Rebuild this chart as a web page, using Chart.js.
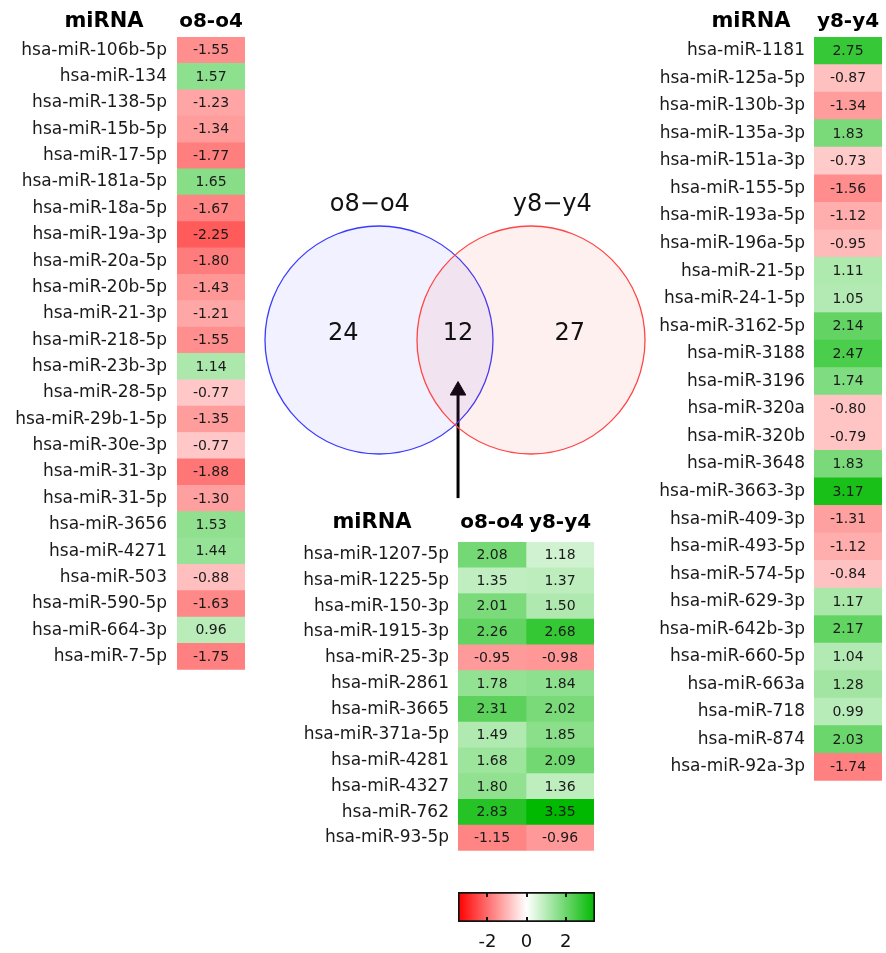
<!DOCTYPE html>
<html><head><meta charset="utf-8">
<script src="https://cdn.jsdelivr.net/npm/chart.js@4.4.1/dist/chart.umd.min.js"></script>
<style>
html,body{margin:0;padding:0;background:#fff;}
#wrap{position:relative;width:886px;height:953px;overflow:hidden;background:#fff;}
canvas{position:absolute;}
</style></head><body><div id="wrap">
<canvas id="cLeft"></canvas>
<canvas id="cRight"></canvas>
<canvas id="cMid"></canvas>
<canvas id="cVenn"></canvas>
<canvas id="cBar"></canvas>
</div>
<script>
// ---------------- DATA ----------------
const leftMirnas = ['hsa-miR-106b-5p','hsa-miR-134','hsa-miR-138-5p','hsa-miR-15b-5p','hsa-miR-17-5p','hsa-miR-181a-5p','hsa-miR-18a-5p','hsa-miR-19a-3p','hsa-miR-20a-5p','hsa-miR-20b-5p','hsa-miR-21-3p','hsa-miR-218-5p','hsa-miR-23b-3p','hsa-miR-28-5p','hsa-miR-29b-1-5p','hsa-miR-30e-3p','hsa-miR-31-3p','hsa-miR-31-5p','hsa-miR-3656','hsa-miR-4271','hsa-miR-503','hsa-miR-590-5p','hsa-miR-664-3p','hsa-miR-7-5p'];
const leftO8O4 = [-1.55,1.57,-1.23,-1.34,-1.77,1.65,-1.67,-2.25,-1.80,-1.43,-1.21,-1.55,1.14,-0.77,-1.35,-0.77,-1.88,-1.30,1.53,1.44,-0.88,-1.63,0.96,-1.75];

const rightMirnas = ['hsa-miR-1181','hsa-miR-125a-5p','hsa-miR-130b-3p','hsa-miR-135a-3p','hsa-miR-151a-3p','hsa-miR-155-5p','hsa-miR-193a-5p','hsa-miR-196a-5p','hsa-miR-21-5p','hsa-miR-24-1-5p','hsa-miR-3162-5p','hsa-miR-3188','hsa-miR-3196','hsa-miR-320a','hsa-miR-320b','hsa-miR-3648','hsa-miR-3663-3p','hsa-miR-409-3p','hsa-miR-493-5p','hsa-miR-574-5p','hsa-miR-629-3p','hsa-miR-642b-3p','hsa-miR-660-5p','hsa-miR-663a','hsa-miR-718','hsa-miR-874','hsa-miR-92a-3p'];
const rightY8Y4 = [2.75,-0.87,-1.34,1.83,-0.73,-1.56,-1.12,-0.95,1.11,1.05,2.14,2.47,1.74,-0.80,-0.79,1.83,3.17,-1.31,-1.12,-0.84,1.17,2.17,1.04,1.28,0.99,2.03,-1.74];

const sharedMirnas = ['hsa-miR-1207-5p','hsa-miR-1225-5p','hsa-miR-150-3p','hsa-miR-1915-3p','hsa-miR-25-3p','hsa-miR-2861','hsa-miR-3665','hsa-miR-371a-5p','hsa-miR-4281','hsa-miR-4327','hsa-miR-762','hsa-miR-93-5p'];
const sharedO8O4 = [2.08,1.35,2.01,2.26,-0.95,1.78,2.31,1.49,1.68,1.80,2.83,-1.15];
const sharedY8Y4 = [1.18,1.37,1.50,2.68,-0.98,1.84,2.02,1.85,2.09,1.36,3.35,-0.96];

const colO8O4 = 'o8-o4';
const colY8Y4 = 'y8-y4';
const rowHeader = 'miRNA';
const vennSetLabels = ['o8\u2212o4','y8\u2212y4'];
const vennCounts = [24, 12, 27];        // only o8-o4, shared, only y8-y4
const colorbarTicks = [-2, 0, 2];
const colorbarRange = [-3.5, 3.5];

// ---------------- STYLE / LAYOUT ----------------
const FONT = 'DejaVu Sans';
Chart.defaults.font.family = FONT;
Chart.defaults.animation = false;

function makeColor(negDiv, posOff, posDiv) {
  return v => {
    let t;
    if (v < 0) {
      t = Math.min(1, -v / negDiv);
      const c = Math.round(255 * (1 - t));
      return `rgb(255,${c},${c})`;
    }
    t = Math.max(0, Math.min(1, (v - posOff) / posDiv));
    const r = Math.round(255 * (1 - t));
    const g = Math.round(255 - 70 * t);
    return `rgb(${r},${g},${r})`;
  };
}
const colorMain = makeColor(3.5, 0, 3.5);
const colorShared = makeColor(2.4, 0.74, 2.45);

const cellText = {
  id: 'cellText',
  afterDatasetsDraw(chart) {
    const ctx = chart.ctx;
    ctx.save();
    ctx.font = `14px "${FONT}"`;
    ctx.fillStyle = '#1a1a1a';
    ctx.textAlign = 'center';
    ctx.textBaseline = 'middle';
    chart.data.datasets.forEach((ds, i) => {
      chart.getDatasetMeta(i).data.forEach((el, k) => {
        ctx.fillText(ds.values[k].toFixed(2), (el.x + el.base) / 2, el.y + 0.5);
      });
    });
    ctx.restore();
  }
};

const rowHeaderPlugin = {
  id: 'rowHeader',
  afterDraw(chart, args, opts) {
    const ctx = chart.ctx;
    ctx.save();
    ctx.font = `bold 21px "${FONT}"`;
    ctx.fillStyle = '#000';
    ctx.textAlign = 'center';
    ctx.textBaseline = 'middle';
    ctx.fillText(opts.text, opts.x, opts.y);
    ctx.restore();
  }
};

function placeCanvas(cv, box) {
  cv.width = box.w; cv.height = box.h;
  cv.style.left = box.x + 'px'; cv.style.top = box.y + 'px';
  cv.style.width = box.w + 'px'; cv.style.height = box.h + 'px';
}

function buildHeatmap(cfg) {
  const cv = document.getElementById(cfg.id);
  placeCanvas(cv, cfg.box);
  const yAxisW = cfg.area.l - cfg.box.x;
  const xAxisH = cfg.area.t - cfg.box.y;
  const headY = cfg.headerY - cfg.box.y;
  const datasets = cfg.columns.map((vals, j) => ({
    data: vals.map(() => [j, j + 1]),
    values: vals,
    backgroundColor: ctx => cfg.color(vals[ctx.dataIndex]),
    borderWidth: 0,
    barPercentage: 1,
    categoryPercentage: 1,
    grouped: false
  }));
  new Chart(cv, {
    type: 'bar',
    data: { labels: cfg.names, datasets },
    options: {
      indexAxis: 'y', responsive: false, animation: false, events: [],
      layout: { padding: { left: 0, top: 0,
        right: cfg.box.x + cfg.box.w - cfg.area.r,
        bottom: cfg.box.y + cfg.box.h - cfg.area.b } },
      plugins: { legend: { display: false }, tooltip: { enabled: false },
        rowHeader: { text: rowHeader, x: cfg.headerX - cfg.box.x, y: headY } },
      scales: {
        y: { type: 'category', offset: true,
          grid: { display: false, drawTicks: false }, border: { display: false },
          ticks: { autoSkip: false, padding: cfg.labelPad, color: '#1a1a1a', font: { family: FONT, size: 17 } },
          afterFit: s => { s.width = yAxisW; } },
        x: { type: 'linear', position: 'top', min: 0, max: cfg.columns.length,
          grid: { display: false, drawTicks: false }, border: { display: false },
          afterBuildTicks: a => { a.ticks = cfg.columns.map((_, j) => ({ value: j + 0.5 })); },
          ticks: { autoSkip: false, maxRotation: 0, minRotation: 0, padding: xAxisH - 12 - headY,
            color: '#000', font: { family: FONT, size: 20, weight: 'bold' },
            callback: (v, i) => cfg.colLabels[i] },
          afterFit: s => { s.height = xAxisH; } }
      }
    },
    plugins: [cellText, rowHeaderPlugin]
  });
}

buildHeatmap({ id: 'cLeft', box: { x: 0, y: 0, w: 252, h: 690 },
  area: { l: 177, t: 37, r: 245, b: 684 }, headerX: 104, headerY: 22, labelPad: 10,
  names: leftMirnas, columns: [leftO8O4], colLabels: [colO8O4], color: colorMain });

buildHeatmap({ id: 'cRight', box: { x: 640, y: 0, w: 246, h: 800 },
  area: { l: 814, t: 37, r: 882, b: 793 }, headerX: 751, headerY: 22, labelPad: 9,
  names: rightMirnas, columns: [rightY8Y4], colLabels: [colY8Y4], color: colorMain });

buildHeatmap({ id: 'cMid', box: { x: 290, y: 500, w: 312, h: 370 },
  area: { l: 458, t: 542, r: 594, b: 864 }, headerX: 372, headerY: 523, labelPad: 9,
  names: sharedMirnas, columns: [sharedO8O4, sharedY8Y4], colLabels: [colO8O4, colY8Y4], color: colorShared });

// ---------------- VENN ----------------
(function () {
  const box = { x: 250, y: 145, w: 410, h: 365 };
  const cv = document.getElementById('cVenn');
  placeCanvas(cv, box);
  const ox = 455, oy = 340, ppu = 76;     // page origin of unit system & pixels per unit
  const R = 1.5;                          // circle radius in units (centres at -1, +1)
  const arrowX = 0.04;
  const radiusPx = ctx => {
    const s = ctx.chart.scales.x;
    return s.getPixelForValue(R) - s.getPixelForValue(0);
  };
  const textPlugin = {
    id: 'vennText',
    afterDatasetsDraw(chart) {
      const { ctx, scales: { x, y } } = chart;
      ctx.save();
      ctx.fillStyle = '#111';
      ctx.textAlign = 'center';
      ctx.textBaseline = 'middle';
      ctx.font = `24px "${FONT}"`;
      const setPos = [[-1.12, 1.78], [1.28, 1.78]];
      vennSetLabels.forEach((t, i) => ctx.fillText(t, x.getPixelForValue(setPos[i][0]), y.getPixelForValue(setPos[i][1])));
      const cntPos = [[-1.47, 0.08], [0.04, 0.08], [1.51, 0.08]];
      vennCounts.forEach((n, i) => ctx.fillText(String(n), x.getPixelForValue(cntPos[i][0]), y.getPixelForValue(cntPos[i][1])));
      ctx.restore();
    }
  };
  new Chart(cv, {
    type: 'scatter',
    data: { datasets: [
      { data: [{ x: -1, y: 0 }, { x: 1, y: 0 }],
        pointRadius: radiusPx,
        pointBackgroundColor: ['rgba(70,70,255,0.075)', 'rgba(255,50,50,0.075)'],
        pointBorderColor: ['#3b3bff', '#ff4646'],
        pointBorderWidth: 1.3, clip: false },
      { type: 'line', data: [{ x: arrowX, y: -2.08 }, { x: arrowX, y: -0.72 }],
        borderColor: '#000', borderWidth: 3, pointRadius: 0, fill: false, showLine: true },
      { data: [{ x: arrowX, y: -0.665 }], pointStyle: 'triangle', pointRadius: 9,
        pointBackgroundColor: '#000', pointBorderColor: '#000', pointBorderWidth: 1 }
    ] },
    options: {
      responsive: false, animation: false, events: [],
      layout: { padding: 0, autoPadding: false },
      plugins: { legend: { display: false }, tooltip: { enabled: false } },
      scales: {
        x: { type: 'linear', display: false, min: (box.x - ox) / ppu, max: (box.x + box.w - ox) / ppu },
        y: { type: 'linear', display: false, min: (oy - box.y - box.h) / ppu, max: (oy - box.y) / ppu }
      }
    },
    plugins: [textPlugin]
  });
})();

// ---------------- COLOR BAR ----------------
(function () {
  const box = { x: 440, y: 878, w: 175, h: 75 };
  const area = { l: 458, t: 892, r: 595, b: 922 };
  const cv = document.getElementById('cBar');
  placeCanvas(cv, box);
  const tickMarks = {
    id: 'tickMarks',
    afterDatasetsDraw(chart) {
      const { ctx, chartArea: ca, scales: { x } } = chart;
      ctx.save();
      ctx.strokeStyle = '#111';
      ctx.lineWidth = 2;
      x.ticks.forEach(t => {
        const px = Math.round(x.getPixelForValue(t.value));
        ctx.beginPath();
        ctx.moveTo(px, ca.top); ctx.lineTo(px, ca.top + 5);
        ctx.moveTo(px, ca.bottom); ctx.lineTo(px, ca.bottom - 5);
        ctx.stroke();
      });
      ctx.restore();
    }
  };
  new Chart(cv, {
    type: 'bar',
    data: { labels: [''], datasets: [{
      data: [colorbarRange],
      backgroundColor: ctx => {
        const ca = ctx.chart.chartArea;
        if (!ca) return '#fff';
        const g = ctx.chart.ctx.createLinearGradient(ca.left, 0, ca.right, 0);
        const n = 28;
        for (let k = 0; k <= n; k++) {
          const v = colorbarRange[0] + (colorbarRange[1] - colorbarRange[0]) * k / n;
          g.addColorStop(k / n, colorMain(v));
        }
        return g;
      },
      borderColor: '#111', borderWidth: 2, borderSkipped: false,
      barPercentage: 1, categoryPercentage: 1
    }] },
    options: {
      indexAxis: 'y', responsive: false, animation: false, events: [],
      layout: { padding: { left: area.l - box.x, right: box.x + box.w - area.r, top: area.t - box.y, bottom: 0 } },
      plugins: { legend: { display: false }, tooltip: { enabled: false } },
      scales: {
        y: { type: 'category', display: false },
        x: { type: 'linear', position: 'bottom', min: colorbarRange[0], max: colorbarRange[1],
          grid: { display: false, drawTicks: false }, border: { display: false },
          afterBuildTicks: a => { a.ticks = colorbarTicks.map(v => ({ value: v })); },
          ticks: { padding: 10, color: '#111', font: { family: FONT, size: 18 }, callback: v => String(v) },
          afterFit: s => { s.height = box.y + box.h - area.b; } }
      }
    },
    plugins: [tickMarks]
  });
})();
</script>
</body></html>
